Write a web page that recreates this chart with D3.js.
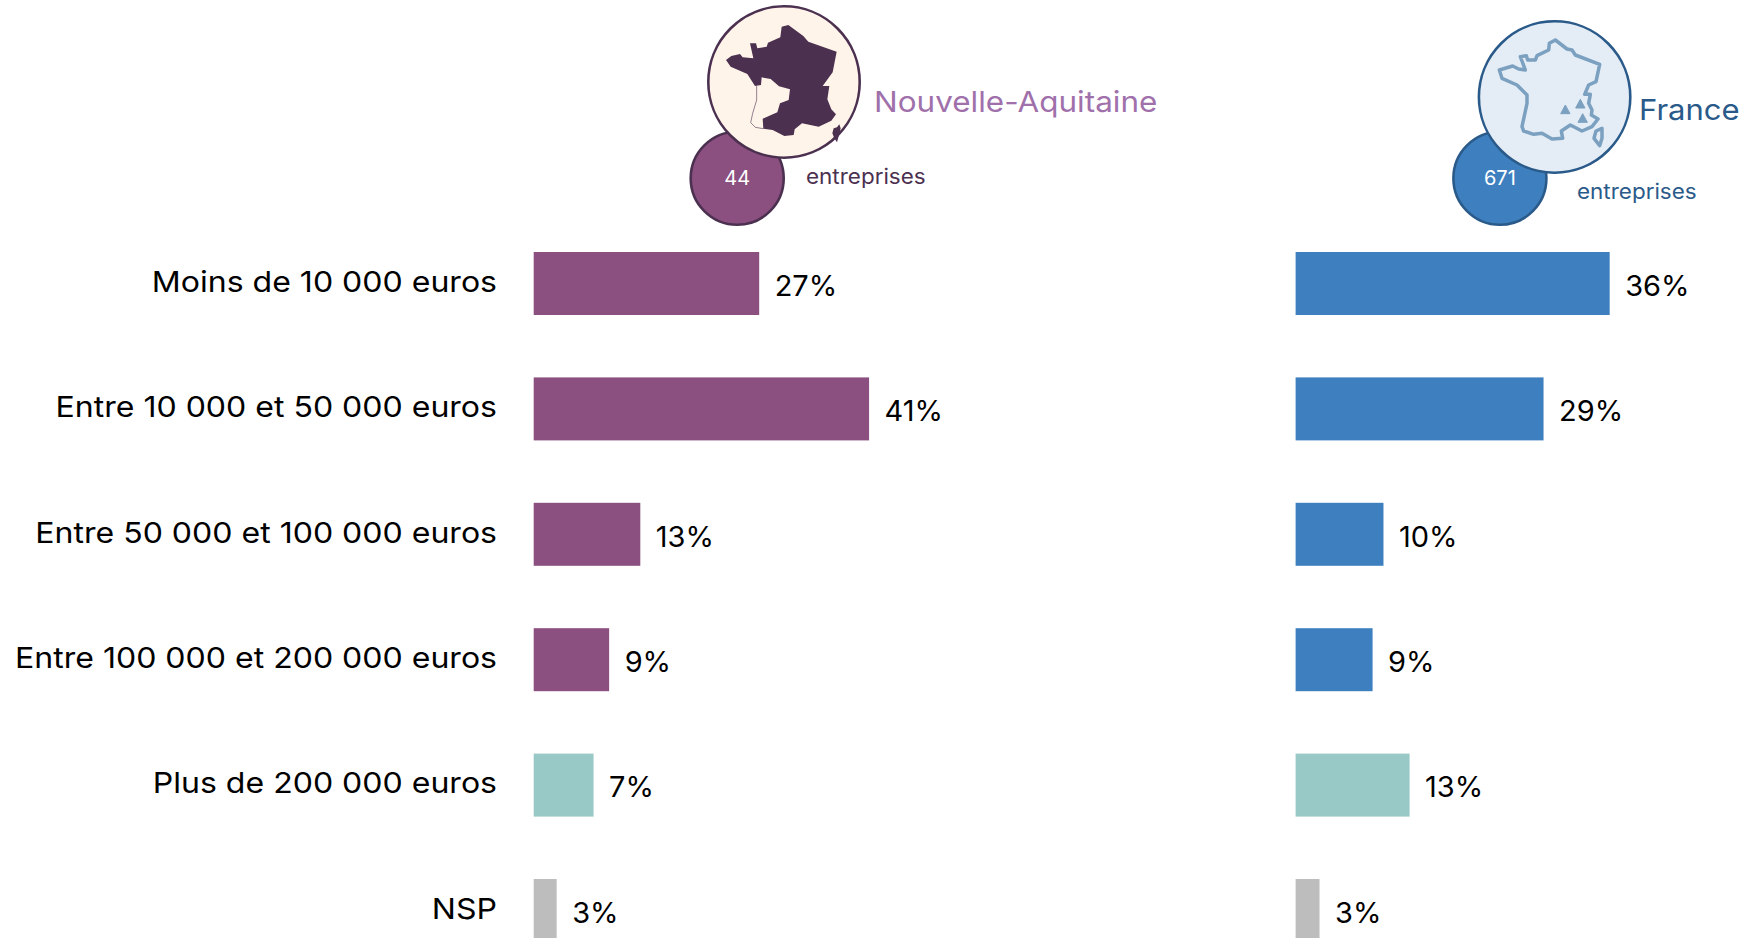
<!DOCTYPE html>
<html><head><meta charset="utf-8">
<script src="https://cdn.jsdelivr.net/npm/d3@7/dist/d3.min.js"></script>
<style>html,body{margin:0;padding:0;background:#fff;overflow:hidden}svg{display:block}text{font-family:Inter,"Open Sans",sans-serif}</style>
</head><body><svg id="c" width="1744" height="938"></svg>
<script>
const categories = ["Moins de 10 000 euros","Entre 10 000 et 50 000 euros","Entre 50 000 et 100 000 euros","Entre 100 000 et 200 000 euros","Plus de 200 000 euros","NSP"];
const regionValues = [27.5,40.9,13,9.2,7.3,2.8];
const franceValues = [36.1,28.5,10.1,8.85,13.1,2.75];
const regionLabels = ["27%","41%","13%","9%","7%","3%"];
const franceLabels = ["36%","29%","10%","9%","13%","3%"];
const regionName = "Nouvelle-Aquitaine", franceName = "France", unitLabel = "entreprises";
const regionCount = "44", franceCount = "671";

// Icon outlines (traced, in a local 375-unit icon space)
const naMainland = [[12,120],[28,108],[54,102],[62,112],[94,115],[84,70],[102,70],[106,85],[134,80],[138,68],[175,52],[179,20],[199,15],[244,48],[259,65],[344,95],[332,157],[302,198],[322,198],[316,238],[328,268],[342,283],[328,302],[290,320],[240,310],[218,328],[215,345],[187,348],[152,330],[124,326],[122,296],[166,277],[174,250],[200,240],[204,208],[171,199],[146,177],[119,172],[117,195],[99,198],[76,162],[26,140]];
const naRegionEdge = [[104,198],[104,240],[92,280],[86,308],[100,322],[124,326]];
const naCorsica = [[352,313],[356,325],[351,345],[345,367],[337,355],[331,340],[335,325],[345,322]];
const frMainland = [[22,105],[62,93],[80,102],[100,105],[85,65],[103,62],[107,75],[130,75],[135,62],[170,45],[172,25],[190,15],[225,42],[240,45],[250,60],[323,88],[312,140],[290,150],[278,178],[295,178],[290,205],[300,225],[298,240],[318,252],[300,275],[270,288],[235,270],[208,288],[212,310],[180,312],[150,295],[125,298],[95,288],[90,275],[105,205],[105,180],[75,150],[30,130]];
const frCorsica = [[330,280],[312,288],[306,310],[323,332],[330,310]];
const frPeaks = [[220,224],[265,207],[272,250]];

const svg = d3.select("#c");
const y = d3.scaleBand().domain(categories).range([252,942]).paddingInner(0.4976).paddingOuter(0).align(0);
const xL = d3.scaleLinear().domain([0,1]).range([533.7,533.7+8.2]);
const xR = d3.scaleLinear().domain([0,1]).range([1295.6,1295.6+8.7]);
const colour = (i,c)=> i<4 ? c : (i==4 ? "#99c9c6" : "#bdbdbd");
const FS = 29;

// Widened text: the reference typeface is broader than any installed one
function wide(sel,x,yy,sx){ return sel.attr("transform",function(d,i){return `translate(${typeof x==="function"?x(d,i):x},${typeof yy==="function"?yy(d,i):yy}) scale(${sx},1)`;}); }

wide(svg.append("g").selectAll("text").data(categories).join("text"),497,d=>y(d)+y.bandwidth()/2+8.2,1.105)
 .attr("text-anchor","end").attr("font-size",FS).attr("fill","#000").text(d=>d);

function panel(vals,labels,x,c){
  const g = svg.append("g");
  g.selectAll("rect").data(vals).join("rect")
   .attr("x",x(0)).attr("y",(d,i)=>y(categories[i])).attr("height",y.bandwidth())
   .attr("width",d=>x(d)-x(0)).attr("fill",(d,i)=>colour(i,c));
  g.selectAll("text").data(vals).join("text")
   .attr("x",d=>x(d)+15.5).attr("y",(d,i)=>y(categories[i])+y.bandwidth()/2+12.3)
   .attr("font-size",FS).attr("fill","#000").text((d,i)=>labels[i]);
}
panel(regionValues,regionLabels,xL,"#8b5080");
panel(franceValues,franceLabels,xR,"#3e80bf");

function icon(ox,oy){
  const sx=d3.scaleLinear().domain([0,3]).range([ox,ox+1]), sy=d3.scaleLinear().domain([0,3]).range([oy,oy+1]);
  return d3.line().x(d=>sx(d[0])).y(d=>sy(d[1]));
}
function header(o){
  const g=svg.append("g");
  g.append("circle").attr("cx",o.sc[0]).attr("cy",o.sc[1]).attr("r",46.5).attr("fill",o.fill).attr("stroke",o.dark).attr("stroke-width",2.6);
  g.append("circle").attr("cx",o.bc[0]).attr("cy",o.bc[1]).attr("r",75.7).attr("fill",o.pale).attr("stroke",o.dark).attr("stroke-width",2.6);
  g.append("text").attr("x",o.sc[0]).attr("y",o.ny).attr("text-anchor","middle").attr("font-size",20).attr("fill","#fff").text(o.count);
  wide(g.append("text"),o.ux,o.uy,1.07).attr("font-size",21).attr("fill",o.dark).text(unitLabel);
  wide(g.append("text"),o.tx,o.ty,o.ts).attr("font-size",29).attr("fill",o.title).text(o.name);
}
header({sc:[737.2,178.3],bc:[784,82],fill:"#8b5080",dark:"#4b3050",pale:"#fff4ea",count:regionCount,ny:185,ux:806,uy:184,tx:874,ty:112,ts:1.085,title:"#a070ab",name:regionName});
header({sc:[1499.9,178.3],bc:[1554.6,97],fill:"#3e80bf",dark:"#2a5a8a",pale:"#e4edf6",count:franceCount,ny:185,ux:1577,uy:199,tx:1639,ty:120,ts:1.07,title:"#2a5a8a",name:franceName});

const ln = icon(722,20);
svg.append("path").attr("d",ln(naRegionEdge)).attr("fill","none").attr("stroke","#4b3050").attr("stroke-width",0.6);
const lc = icon(722,20).curve(d3.curveLinearClosed);
svg.append("path").attr("d",lc(naMainland)).attr("fill","#4b3050");
svg.append("path").attr("d",lc(naCorsica)).attr("fill","#4b3050");
const lf = icon(1492,35).curve(d3.curveLinearClosed);
svg.append("path").attr("d",lf(frMainland)).attr("fill","none").attr("stroke","#7ba0c0").attr("stroke-width",3.5).attr("stroke-linejoin","round");
svg.append("path").attr("d",lf(frCorsica)).attr("fill","none").attr("stroke","#7ba0c0").attr("stroke-width",3.5).attr("stroke-linejoin","round");
svg.append("g").selectAll("path").data(frPeaks).join("path")
 .attr("d",d=>lf([[d[0]-14,d[1]+12],[d[0],d[1]-14],[d[0]+14,d[1]+12]])).attr("fill","#7ba0c0").attr("stroke","#7ba0c0").attr("stroke-width",1).attr("stroke-linejoin","round");
</script></body></html>
